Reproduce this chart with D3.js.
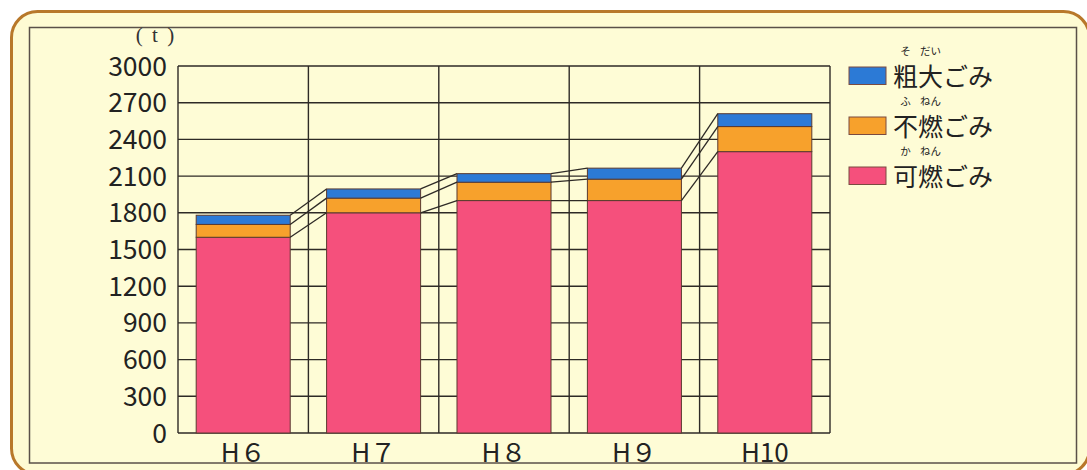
<!DOCTYPE html>
<html><head><meta charset="utf-8">
<script src="https://cdn.jsdelivr.net/npm/d3@7"></script>
<style>body{margin:0;background:#fff}svg{display:block}</style>
</head><body><svg id="c" width="1087" height="470"></svg>
<script>
const categories = ["H６","H７","H８","H９","H10"];
const kanen = [1600,1800,1900,1900,2300];   // 可燃ごみ
const funen = [105,120,150,175,205];        // 不燃ごみ
const sodai = [75,75,70,90,105];            // 粗大ごみ
const yTicks = [0,300,600,900,1200,1500,1800,2100,2400,2700,3000];
const legendLabels = ["粗大ごみ","不燃ごみ","可燃ごみ"];
const legendRuby = [["そ","だい"],["ふ","ねん"],["か","ねん"]];
const colors = {sodai:"#2c7ad6", funen:"#f7a12c", kanen:"#f5507c"};
const unitLabel = "( t )";

(function(){
const svg = d3.select("#c");
const font = "'Noto Sans CJK JP','Noto Sans',sans-serif";

// frames
svg.append("rect").attr("x",11.5).attr("y",11.5).attr("width",1078).attr("height",463).attr("rx",26)
  .attr("fill","#fefbd3").attr("stroke","#b8782a").attr("stroke-width",3);
svg.append("rect").attr("x",29.5).attr("y",27.5).attr("width",1047).attr("height",435.5)
  .attr("fill","#fefcd6").attr("stroke","#5a5048").attr("stroke-width",1.5);

const pl=178, pr=830, pt=66, pb=433;
const x = d3.scaleBand().domain(categories).range([pl,pr]).paddingInner(0.279).paddingOuter(0.1395);
const y = d3.scaleLinear().domain([0,3000]).range([pb,pt]);
const step = x.step();

// grid
const g = svg.append("g");
g.selectAll("line.h").data(yTicks).join("line")
  .attr("x1",pl).attr("x2",pr).attr("y1",d=>y(d)).attr("y2",d=>y(d))
  .attr("stroke","#2e2a26").attr("stroke-width",1.4);
const vlines = d3.range(categories.length+1).map(i=>pl+i*step);
g.selectAll("line.v").data(vlines).join("line")
  .attr("x1",d=>d).attr("x2",d=>d).attr("y1",pt).attr("y2",pb)
  .attr("stroke","#2e2a26").attr("stroke-width",1.4);

// stack
const rows = categories.map((c,i)=>({cat:c,kanen:kanen[i],funen:funen[i],sodai:sodai[i]}));
const keys = ["kanen","funen","sodai"];
const series = d3.stack().keys(keys)(rows);

const bars = svg.append("g");
series.forEach(s=>{
  bars.selectAll(null).data(s).join("rect")
    .attr("x",d=>x(d.data.cat)).attr("width",x.bandwidth())
    .attr("y",d=>y(d[1])).attr("height",d=>y(d[0])-y(d[1]))
    .attr("fill",colors[s.key]).attr("stroke","#5a3a30").attr("stroke-width",1);
});

// connecting lines
series.forEach(s=>{
  for(let i=0;i<s.length-1;i++){
    svg.append("line")
      .attr("x1",x(categories[i])+x.bandwidth()).attr("y1",y(s[i][1]))
      .attr("x2",x(categories[i+1])).attr("y2",y(s[i+1][1]))
      .attr("stroke","#2e2a26").attr("stroke-width",1.3);
  }
});

// y tick labels
svg.selectAll("text.yt").data(yTicks).join("text")
  .attr("x",167).attr("y",d=>y(d)+9.5).attr("text-anchor","end")
  .attr("font-family",font).attr("font-size",26.5).attr("fill","#222").text(d=>d);
svg.append("text").attr("x",156).attr("y",42).attr("text-anchor","middle")
  .attr("font-family","'Liberation Serif','DejaVu Serif',serif").attr("font-size",21)
  .attr("letter-spacing",2).attr("fill","#333").text(unitLabel);

// x labels
svg.selectAll("text.xt").data(categories).join("text")
  .attr("x",d=>x(d)+x.bandwidth()/2).attr("y",462).attr("text-anchor","middle")
  .attr("font-family",font).attr("font-size",26).attr("fill","#222").text(d=>d);

// legend
const legColors = [colors.sodai, colors.funen, colors.kanen];
legendLabels.forEach((lab,i)=>{
  const ly = 67 + i*50;
  svg.append("rect").attr("x",849).attr("y",ly).attr("width",37).attr("height",17.5)
    .attr("fill",legColors[i]).attr("stroke","#7a4a40").attr("stroke-width",1);
  svg.append("text").attr("x",893).attr("y",ly+18.5).attr("font-family",font).attr("font-size",25)
    .attr("fill","#222").text(lab);
  legendRuby[i].forEach((r,j)=>{
    svg.append("text").attr("x",893+12.5+25*j).attr("y",ly-12).attr("text-anchor","middle")
      .attr("font-family",font).attr("font-size",10.5).attr("fill","#222").text(r);
  });
});
})();
</script></body></html>
